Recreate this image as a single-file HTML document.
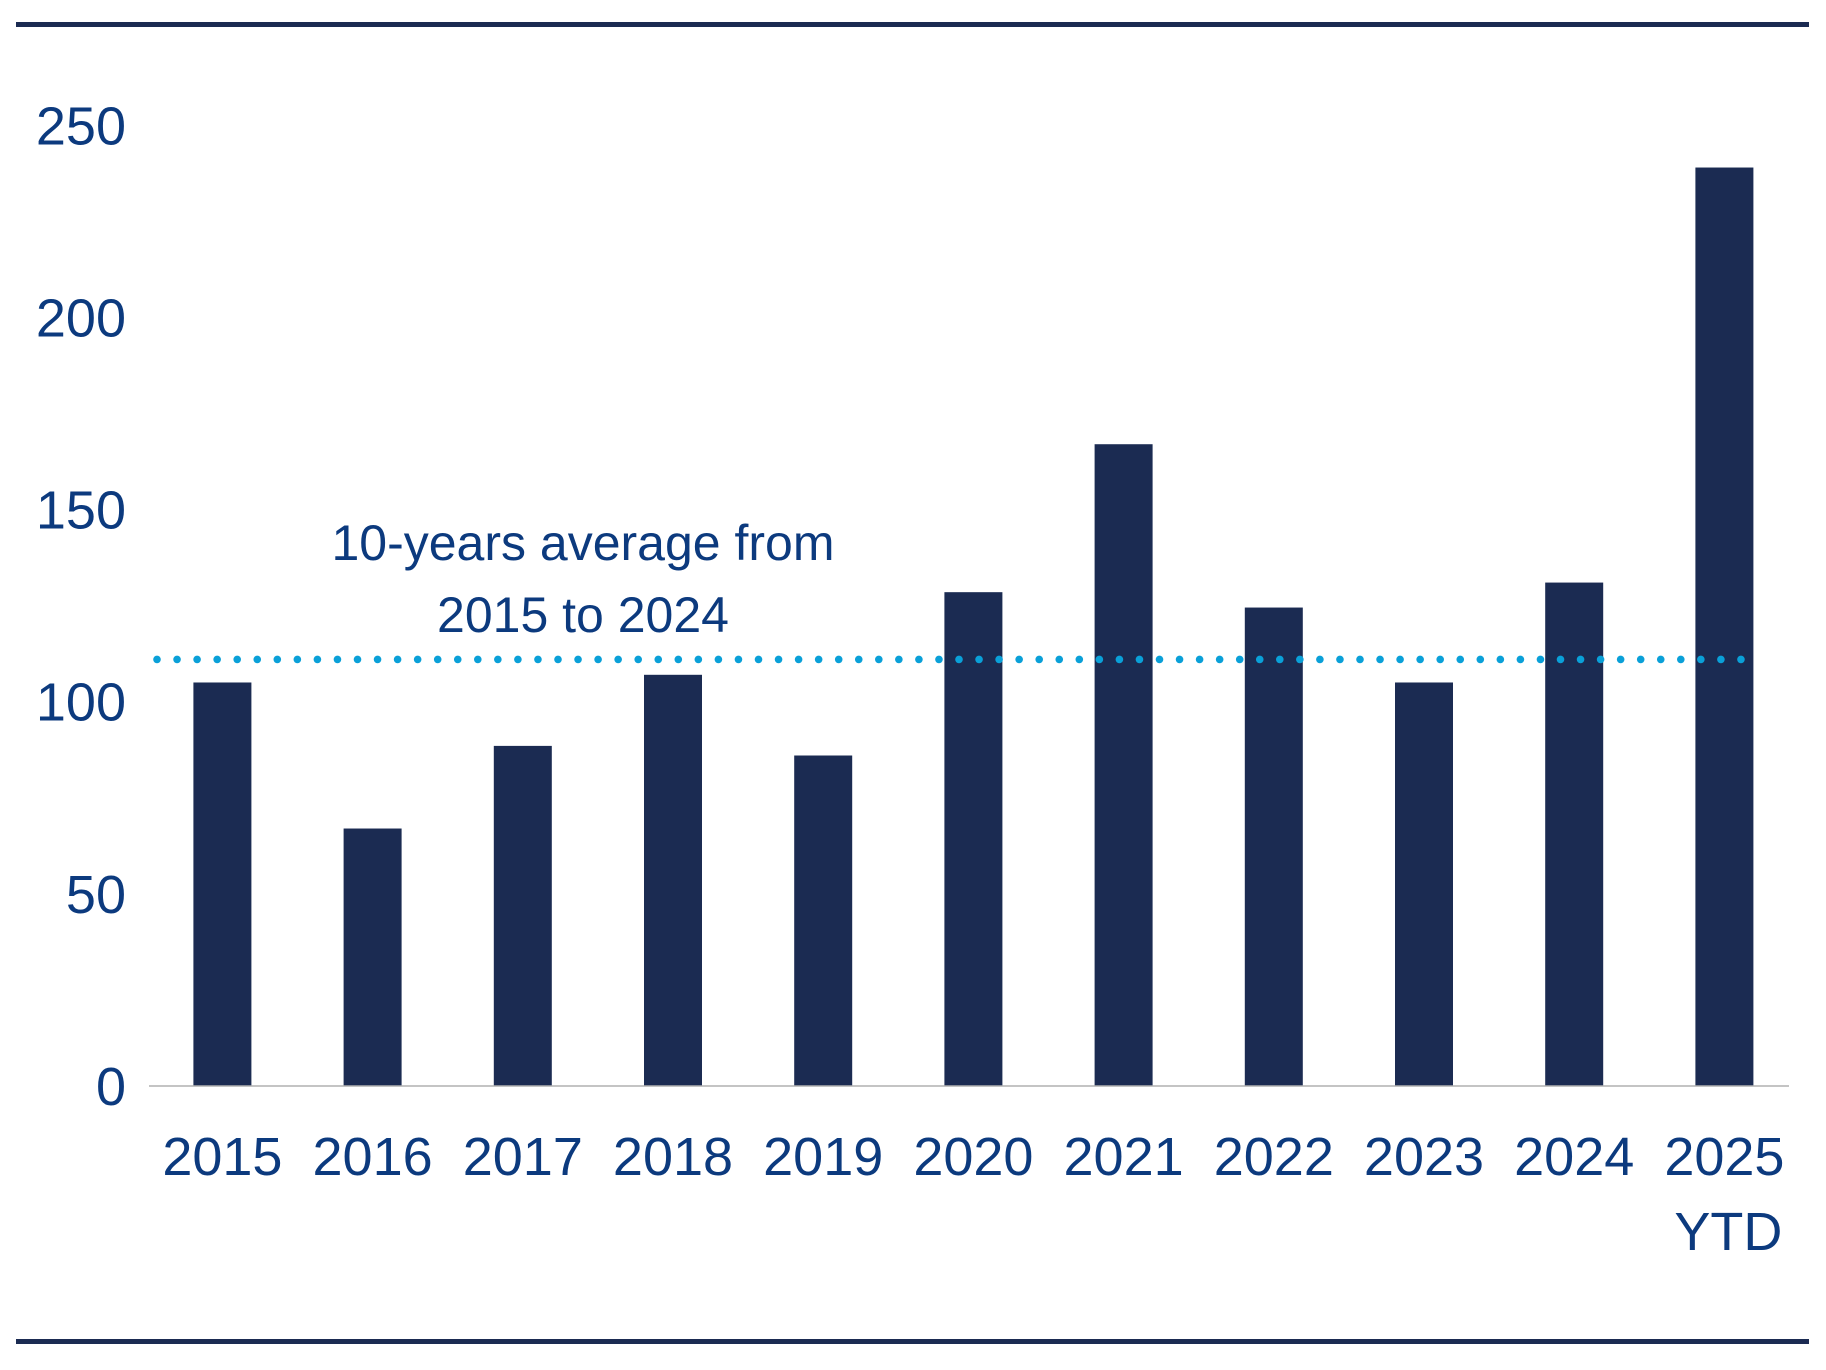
<!DOCTYPE html>
<html><head><meta charset="utf-8"><style>
html,body{margin:0;padding:0;background:#fff;}
svg{display:block;font-family:"Liberation Sans",sans-serif;}
</style></head><body>
<svg id="chart" width="1826" height="1370" viewBox="0 0 1826 1370" xmlns="http://www.w3.org/2000/svg">
<rect x="16" y="22" width="1793" height="5" fill="#1b2b52"/>
<rect x="16" y="1339" width="1793" height="5" fill="#1b2b52"/>
<g id="yaxis"></g>
<g id="bars"></g>
<line x1="149" y1="1086" x2="1789" y2="1086" stroke="#b0b0b0" stroke-width="1.5"/>
<g id="avg"></g>
<g id="xaxis"></g>
<text x="583" y="560" font-size="50" fill="#0c3a7e" text-anchor="middle">10-years average from</text>
<text x="583" y="632" font-size="50" fill="#0c3a7e" text-anchor="middle">2015 to 2024</text>
</svg>
<script>
const categories = ["2015","2016","2017","2018","2019","2020","2021","2022","2023","2024","2025"];
const values = [105, 67, 88.5, 107, 86, 128.5, 167, 124.5, 105, 131, 239];
const yTicks = [0, 50, 100, 150, 200, 250];
const averageValue = 111;

const NS = "http://www.w3.org/2000/svg";
const x0 = 222.4, step = 150.2, barW = 58;
const y = v => 1086 - v * 3.843;
const x = i => x0 + i * step;
function mk(tag, attrs, parent){const e=document.createElementNS(NS,tag);for(const k in attrs)e.setAttribute(k,attrs[k]);parent.appendChild(e);return e;}

const yg = document.getElementById('yaxis');
yTicks.forEach(t=>{
  const e = mk('text',{x:126,y:y(t)+19,'font-size':54,fill:'#0c3a7e','text-anchor':'end'},yg);
  e.textContent = t;
  
  
});

const bg = document.getElementById('bars');
values.forEach((v,i)=>{
  const r = mk('rect',{x:x(i)-barW/2,y:y(v),width:barW,height:y(0)-y(v),fill:'#1b2b52'},bg);
  
  
});

const ag = document.getElementById('avg');
for(let px=157; px<=1748; px+=20.05){
  const c = mk('circle',{cx:px,cy:y(averageValue),r:3.8,fill:'#0aa0d8'},ag);
  
  
}

const xg = document.getElementById('xaxis');
categories.forEach((c,i)=>{
  const e = mk('text',{x:x(i),y:1175,'font-size':54,fill:'#0c3a7e','text-anchor':'middle'},xg);
  e.textContent = c;
  
  
});
const ytd = mk('text',{x:x(10)+4,y:1250,'font-size':54,fill:'#0c3a7e','text-anchor':'middle'},xg);
ytd.textContent = 'YTD';


</script>
</body></html>
